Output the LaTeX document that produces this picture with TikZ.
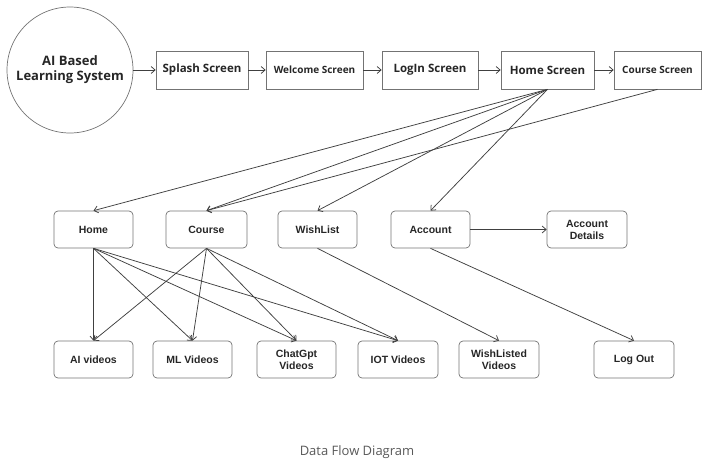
\documentclass[tikz,border=0pt]{standalone}
\usepackage{fontspec}
\setmainfont{Open Sans}
\newfontfamily\boxfont{Liberation Sans}
\usetikzlibrary{arrows.meta, positioning, calc, shapes}

\begin{document}
\begin{tikzpicture}[x=1pt, y=-1pt, >={Straight Barb[length=4pt,width=7pt]},
  screen/.style={draw=black!55, line width=0.7pt, minimum height=38pt, inner sep=2pt, text=black!85, font=\bfseries\fontsize{11.5}{13}\selectfont},
  page/.style={draw=black!55, line width=0.7pt, rounded corners=4pt, minimum width=79pt, minimum height=37pt, inner sep=2pt, align=center, text=black!85, font=\boxfont\bfseries\fontsize{10.5}{12}\selectfont},
  flow/.style={->, draw=black!75, line width=0.75pt}]

  \useasboundingbox (0,0) rectangle (705,464);

  \node[circle, draw=black!55, line width=0.7pt, minimum size=126pt, align=center, text=black!85,
        font=\bfseries\fontsize{13}{15}\selectfont] (sys) at (70,70) {AI Based\\Learning System};

  \node[screen, minimum width=92pt] (splash) at (202,70) {Splash Screen};
  \node[screen, minimum width=97pt, font=\bfseries\fontsize{10}{12}\selectfont] (welcome) at (314.5,70) {Welcome Screen};
  \node[screen, minimum width=96pt] (login) at (430,70) {LogIn Screen};
  \node[screen, minimum width=93pt] (homescr) at (547.5,70) {Home Screen};
  \node[screen, minimum width=87pt, font=\bfseries\fontsize{10}{12}\selectfont] (coursescr) at (657.5,70) {Course Screen};

  \node[page] (home) at (93.5,229.5) {Home};
  \node[page, minimum width=81pt] (course) at (206.5,229.5) {Course};
  \node[page] (wish) at (317.5,229.5) {WishList};
  \node[page] (account) at (430.5,229.5) {Account};
  \node[page, minimum width=80pt] (details) at (587,229.5) {Account\\Details};

  \node[page] (aivid) at (93.5,359.5) {AI videos};
  \node[page] (mlvid) at (192.5,359.5) {ML Videos};
  \node[page] (gptvid) at (296.5,359.5) {ChatGpt\\Videos};
  \node[page, minimum width=80pt] (iotvid) at (398,359.5) {IOT Videos};
  \node[page, minimum width=80pt] (wishvid) at (499,359.5) {WishListed\\Videos};
  \node[page, minimum width=80pt] (logout) at (634,359.5) {Log Out};

  \draw[flow] (sys) -- (splash);
  \draw[flow] (splash) -- (welcome);
  \draw[flow] (welcome) -- (login);
  \draw[flow] (login) -- (homescr);
  \draw[flow] (homescr) -- (coursescr);

  \draw[flow] (homescr.south) -- (home.north);
  \draw[flow] (homescr.south) -- (course.north);
  \draw[flow] (homescr.south) -- (wish.north);
  \draw[flow] (homescr.south) -- (account.north);
  \draw[flow] (coursescr.south) -- (course.north);

  \foreach \v in {aivid, mlvid, gptvid, iotvid} {
    \draw[flow] (home.south) -- (\v.north);
    \draw[flow] (course.south) -- (\v.north);
  }
  \draw[flow] (wish.south) -- (wishvid.north);
  \draw[flow] (account.south) -- (logout.north);
  \draw[flow] (account) -- (details);

  \node[text=black!65, font=\fontsize{13}{15}\selectfont] (caption) at (357,452) {Data Flow Diagram};
\end{tikzpicture}
\end{document}
